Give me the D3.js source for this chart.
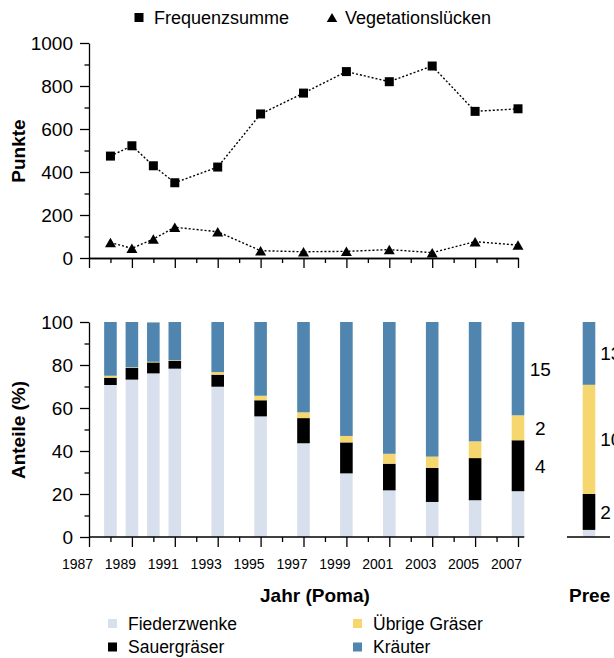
<!DOCTYPE html>
<html>
<head>
<meta charset="utf-8">
<script src="https://cdn.jsdelivr.net/npm/d3@7"></script>
<style>
  html, body { margin: 0; padding: 0; background: #fff; }
  svg { display: block; font-family: "Liberation Sans", Arial, sans-serif; }
</style>
</head>
<body>
<svg id="chart" width="614" height="658"></svg>
<script>
// ---------- data ----------
const years = [1988, 1989, 1990, 1991, 1993, 1995, 1997, 1999, 2001, 2003, 2005, 2007];
const frequenzsumme = [474, 522, 429, 350, 423, 670, 767, 867, 820, 893, 682, 694];
const vegetationsluecken = [72, 45, 88, 143, 122, 34, 29, 31, 39, 25, 76, 60];

const fiederzwenke   = [70.7, 73.2, 76.1, 78.3, 69.9, 56.1, 43.6, 29.6, 21.7, 16.3, 17.1, 21.3];
const sauergraeser   = [3.4, 5.4, 5.1, 3.6, 5.6, 7.5, 11.7, 14.4, 12.4, 15.8, 19.6, 23.7];
const uebrigeGraeser = [0.9, 0.3, 0.3, 0.3, 1.2, 2.1, 2.7, 3.0, 4.6, 5.3, 7.8, 11.6];
const kraeuter       = [25.0, 21.1, 18.3, 17.8, 23.3, 34.3, 42.0, 53.0, 61.3, 62.6, 55.5, 43.4];

const preeCategory = "Pree";
const preeValues = [3.3, 16.7, 50.8, 29.2];   // Fiederzwenke, Sauergräser, Übrige Gräser, Kräuter

const seriesNames = ["Fiederzwenke", "Sauergräser", "Übrige Gräser", "Kräuter"];
const seriesColors = ["#d9e0ed", "#000000", "#f6d66f", "#4f85ae"];

const labels2007 = ["4", "2", "15"];          // Sauergräser, Übrige Gräser, Kräuter
const labelsPree = ["2", "10", "13"];

const topTicks = [0, 200, 400, 600, 800, 1000];
const bottomTicks = [0, 20, 40, 60, 80, 100];
const yearLabels = [1987, 1989, 1991, 1993, 1995, 1997, 1999, 2001, 2003, 2005, 2007];

// ---------- layout ----------
const svg = d3.select("#chart");
const x = d3.scaleLinear().domain([1987, 2007]).range([89, 518]);
const yTop = d3.scaleLinear().domain([0, 1000]).range([258, 43]);
const yBot = d3.scaleLinear().domain([0, 100]).range([537, 322]);
const barW = 12.6;

const oddYears = d3.range(1987, 2008, 2);
const evenYears = d3.range(1988, 2007, 2);

function styleAxis(g) {
  g.selectAll("path.domain").attr("stroke", "#000").attr("stroke-width", 1.3);
  g.selectAll(".tick line").attr("stroke", "#000").attr("stroke-width", 1.3);
}
function styleLabels(g) {
  g.selectAll("text").attr("font-size", 19).attr("fill", "#000")
    .attr("font-family", '"Liberation Sans", Arial, sans-serif');
}

// ---------- top chart ----------
const gTop = svg.append("g");
gTop.append("g").attr("transform", "translate(89,0)")
  .call(d3.axisLeft(yTop).tickValues(d3.range(100, 1000, 200)).tickSize(4.5).tickFormat("").tickSizeOuter(0))
  .call(styleAxis).call(g => g.select(".domain").remove());
gTop.append("g").attr("transform", "translate(89,0)")
  .call(d3.axisLeft(yTop).tickValues(topTicks).tickSize(9).tickSizeOuter(0).tickPadding(7).tickFormat(d3.format("d")))
  .call(styleAxis).call(styleLabels);
gTop.append("g").attr("transform", "translate(0,258)")
  .call(d3.axisBottom(x).tickValues(evenYears).tickSize(5).tickFormat("").tickSizeOuter(0))
  .call(styleAxis);
gTop.append("g").attr("transform", "translate(0,258)")
  .call(d3.axisBottom(x).tickValues(oddYears).tickSize(10).tickFormat("").tickSizeOuter(0))
  .call(styleAxis);

const freqPts = years.map((yr, i) => [yr, frequenzsumme[i]]);
const vegPts = years.map((yr, i) => [yr, vegetationsluecken[i]]);
const lineGen = d3.line().x(d => x(d[0])).y(d => yTop(d[1]));

[freqPts, vegPts].forEach(pts => {
  gTop.append("path").datum(pts).attr("d", lineGen)
    .attr("fill", "none").attr("stroke", "#000").attr("stroke-width", 1.4).attr("stroke-dasharray", "2,2");
});

const sq = 9;
gTop.selectAll("rect.freq").data(freqPts).join("rect")
  .attr("x", d => x(d[0]) - sq / 2).attr("y", d => yTop(d[1]) - sq / 2)
  .attr("width", sq).attr("height", sq).attr("fill", "#000");

function triPath(cx, cy, w, h) {
  return `M${cx},${cy - h / 2}L${cx + w / 2},${cy + h / 2}L${cx - w / 2},${cy + h / 2}Z`;
}
gTop.selectAll("path.veg").data(vegPts).join("path")
  .attr("d", d => triPath(x(d[0]), yTop(d[1]), 11, 9.5)).attr("fill", "#000");

// top legend
svg.append("rect").attr("x", 134.5).attr("y", 13).attr("width", 9).attr("height", 9).attr("fill", "#000");
svg.append("text").attr("x", 154).attr("y", 24).attr("font-size", 18).text("Frequenzsumme");
svg.append("path").attr("d", triPath(332, 17.5, 10.5, 9)).attr("fill", "#000");
svg.append("text").attr("x", 345).attr("y", 24).attr("font-size", 18).text("Vegetationslücken");

svg.append("text").attr("transform", "translate(25,151) rotate(-90)")
  .attr("text-anchor", "middle").attr("font-size", 19).attr("font-weight", "bold").text("Punkte");

// ---------- bottom chart ----------
const gBot = svg.append("g");
gBot.append("g").attr("transform", "translate(89,0)")
  .call(d3.axisLeft(yBot).tickValues(d3.range(10, 100, 20)).tickSize(4.5).tickFormat("").tickSizeOuter(0))
  .call(styleAxis).call(g => g.select(".domain").remove());
gBot.append("g").attr("transform", "translate(89,0)")
  .call(d3.axisLeft(yBot).tickValues(bottomTicks).tickSize(9).tickSizeOuter(0).tickPadding(7).tickFormat(d3.format("d")))
  .call(styleAxis).call(styleLabels);

const stackData = years.map((yr, i) => ({
  year: yr,
  "Fiederzwenke": fiederzwenke[i],
  "Sauergräser": sauergraeser[i],
  "Übrige Gräser": uebrigeGraeser[i],
  "Kräuter": kraeuter[i]
}));
const stacked = d3.stack().keys(seriesNames)(stackData);
stacked.forEach((layer, li) => {
  gBot.append("g").attr("fill", seriesColors[li])
    .selectAll("rect").data(layer).join("rect")
    .attr("x", d => x(d.data.year) - barW / 2)
    .attr("y", d => yBot(d[1]))
    .attr("width", barW)
    .attr("height", d => yBot(d[0]) - yBot(d[1]));
});

const xAxisEnd = x(2007) + barW / 2;
gBot.append("line").attr("x1", 89).attr("x2", xAxisEnd).attr("y1", 537).attr("y2", 537)
  .attr("stroke", "#000").attr("stroke-width", 1.3);
gBot.append("g").attr("transform", "translate(0,537)")
  .call(d3.axisBottom(x).tickValues(evenYears).tickSize(5).tickFormat("").tickSizeOuter(0))
  .call(styleAxis).call(g => g.select(".domain").remove());
gBot.append("g").attr("transform", "translate(0,537)")
  .call(d3.axisBottom(x).tickValues(oddYears).tickSize(10).tickFormat("").tickSizeOuter(0))
  .call(styleAxis).call(g => g.select(".domain").remove());

gBot.selectAll("text.yr").data(yearLabels).join("text")
  .attr("x", d => x(d) - 11.5).attr("y", 568.5)
  .attr("text-anchor", "middle").attr("font-size", 14).text(d => d);

const last = stacked.map(l => l[l.length - 1]);
[1, 2, 3].forEach((li, k) => {
  const seg = last[li];
  gBot.append("text")
    .attr("x", x(2007) + barW / 2 + 16)
    .attr("y", (yBot(seg[0]) + yBot(seg[1])) / 2 + 7)
    .attr("text-anchor", "middle").attr("font-size", 19).text(labels2007[k]);
});

// Pree panel
const xPree = d3.scaleBand().domain([preeCategory]).range([576, 602]).padding(0);
const preeStack = d3.stack().keys(seriesNames)([{
  cat: preeCategory,
  "Fiederzwenke": preeValues[0], "Sauergräser": preeValues[1],
  "Übrige Gräser": preeValues[2], "Kräuter": preeValues[3]
}]);
const pcx = xPree(preeCategory) + xPree.bandwidth() / 2;
preeStack.forEach((layer, li) => {
  gBot.append("rect").attr("fill", seriesColors[li])
    .attr("x", pcx - barW / 2).attr("y", yBot(layer[0][1]))
    .attr("width", barW).attr("height", yBot(layer[0][0]) - yBot(layer[0][1]));
});
gBot.append("line").attr("x1", 567).attr("x2", 610).attr("y1", 537).attr("y2", 537)
  .attr("stroke", "#000").attr("stroke-width", 1.3);
[1, 2, 3].forEach((li, k) => {
  const seg = preeStack[li][0];
  gBot.append("text")
    .attr("x", pcx + barW / 2 + 5)
    .attr("y", (yBot(seg[0]) + yBot(seg[1])) / 2 + 7)
    .attr("text-anchor", "start").attr("font-size", 19).text(labelsPree[k]);
});

svg.append("text").attr("transform", "translate(25,430) rotate(-90)")
  .attr("text-anchor", "middle").attr("font-size", 19).attr("font-weight", "bold").text("Anteile (%)");
svg.append("text").attr("x", 260).attr("y", 601.5).attr("font-size", 19).attr("font-weight", "bold").text("Jahr (Poma)");
svg.append("text").attr("x", 569).attr("y", 601.5).attr("font-size", 19).attr("font-weight", "bold").text(preeCategory);

const legendItems = [
  { name: seriesNames[0], color: seriesColors[0], x: 108, y: 629.5 },
  { name: seriesNames[1], color: seriesColors[1], x: 108, y: 653 },
  { name: seriesNames[2], color: seriesColors[2], x: 353, y: 629.5 },
  { name: seriesNames[3], color: seriesColors[3], x: 353, y: 653 }
];
legendItems.forEach(it => {
  svg.append("rect").attr("x", it.x).attr("y", it.y - 10.5).attr("width", 9).attr("height", 9).attr("fill", it.color);
  svg.append("text").attr("x", it.x + 20).attr("y", it.y).attr("font-size", 17.5).text(it.name);
});
</script>
</body>
</html>
